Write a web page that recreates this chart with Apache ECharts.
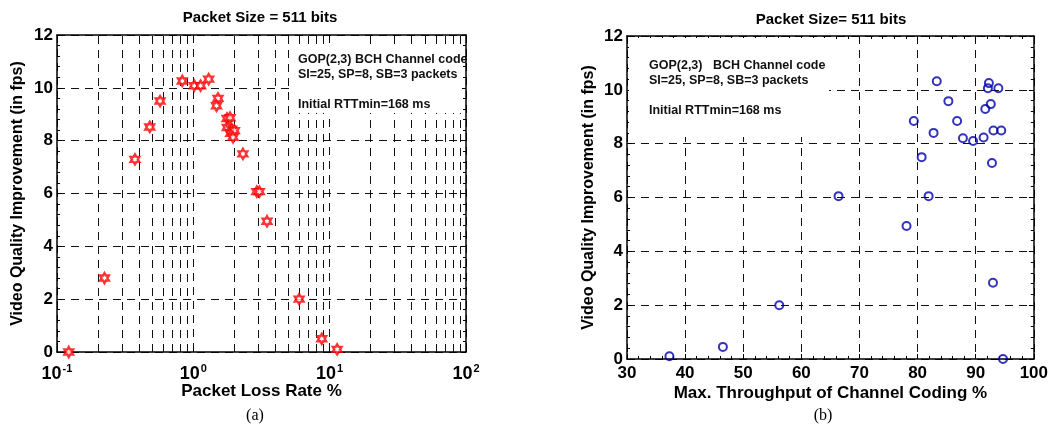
<!DOCTYPE html>
<html>
<head>
<meta charset="utf-8">
<script src="https://cdn.jsdelivr.net/npm/echarts@6/dist/echarts.min.js"></script>
<style>
  html, body { margin: 0; padding: 0; background: #fff; }
  #chart { width: 1051px; height: 430px; }
</style>
</head>
<body>
<div id="chart"></div>
<script>
// (a) packet loss rate vs improvement
const lossRate = [0.122, 0.223, 0.373, 0.479, 0.57, 0.83, 1.016, 1.13, 1.296, 1.517, 1.48,
  1.766, 1.858, 1.775, 1.91, 1.88, 2.0, 1.955, 2.31, 2.92, 3.05, 3.47, 5.97, 8.75, 11.35];
const lossImprovement = [0, 2.8, 7.29, 8.52, 9.5, 10.26, 10.08, 10.08, 10.33, 9.6, 9.32,
  8.84, 8.87, 8.5, 8.43, 8.28, 8.38, 8.13, 7.5, 6.07, 6.07, 4.95, 2.0, 0.5, 0.1];

// (b) max throughput of channel coding vs improvement
const throughput = [37.3, 46.5, 56.2, 66.4, 78.1, 81.9, 80.7, 79.35, 82.75, 83.3, 85.3, 86.8,
  87.8, 89.55, 91.36, 91.65, 92.6, 92.27, 92.1, 93.9, 93.05, 94.4, 92.8, 92.97, 94.7];
const throughputImprovement = [0.1, 0.45, 2.0, 6.05, 4.94, 6.05, 7.5, 8.84, 8.4, 10.32, 9.58, 8.84,
  8.2, 8.1, 8.23, 9.29, 9.47, 10.25, 10.06, 10.06, 8.49, 8.49, 7.28, 2.83, 0];

// log minor grid positions for the loss axis
const minorLogTicks = [0.2, 0.3, 0.4, 0.5, 0.6, 0.7, 0.8, 0.9, 2, 3, 4, 5, 6, 7, 8, 9,
  20, 30, 40, 50, 60, 70, 80, 90];

const FONT = 'Arial, "Liberation Sans", Helvetica, sans-serif';
const hexagram = 'path://M0,-100 L28.87,-50 L86.6,-50 L57.7,0 L86.6,50 L28.87,50 L0,100 ' +
  'L-28.87,50 L-86.6,50 L-57.7,0 L-86.6,-50 L-28.87,-50 Z';

const dash = { color: '#111', width: 1, type: [8, 6] };
const frameLine = { show: true, onZero: false, lineStyle: { color: '#000', width: 1.5 } };
const tick = { show: true, inside: true, length: 5, lineStyle: { color: '#000' } };
const minor = { show: true, splitNumber: 5, length: 3, lineStyle: { color: '#000' } };

function lossData() { return lossRate.map((x, i) => [x, lossImprovement[i]]); }
function tpData() { return throughput.map((x, i) => [x, throughputImprovement[i]]); }

const chart = echarts.init(document.getElementById('chart'));

const option = {
  animation: false,
  backgroundColor: '#fff',
  textStyle: { fontFamily: FONT },
  grid: [
    { left: 57, top: 35, width: 409, height: 317 },
    { left: 627, top: 36, width: 410, height: 323 }
  ],
  xAxis: [
    {
      type: 'log', gridIndex: 0, logBase: 10, min: 0.1, max: 100, position: 'bottom',
      axisLine: frameLine, axisTick: tick,
      splitLine: { show: true, lineStyle: dash },
      name: 'Packet Loss Rate %', nameLocation: 'middle', nameGap: 31, nameMoveOverlap: false,
      nameTextStyle: { fontSize: 17, fontWeight: 'bold', color: '#000' },
      axisLabel: {
        margin: 11,
        formatter: v => '{b|10}{s|' + Math.round(Math.log10(v)) + '}',
        rich: {
          b: { fontSize: 18, fontWeight: 'bold', color: '#000', fontFamily: FONT },
          s: { fontSize: 11, fontWeight: 'bold', color: '#000', fontFamily: FONT, verticalAlign: 'top', padding: [0, 0, 12, 1] }
        }
      }
    },
    {
      type: 'log', gridIndex: 0, logBase: 10, min: 0.1, max: 100, position: 'top',
      axisLine: frameLine, axisTick: tick, axisLabel: { show: false }, splitLine: { show: false }
    },
    {
      type: 'value', gridIndex: 1, min: 30, max: 100, interval: 10, position: 'bottom',
      axisLine: frameLine, axisTick: tick, minorTick: minor,
      splitLine: { show: true, lineStyle: dash },
      name: 'Max. Throughput of Channel Coding %', nameLocation: 'middle', nameGap: 26, nameMoveOverlap: false,
      nameTextStyle: { fontSize: 17, fontWeight: 'bold', color: '#000' },
      axisLabel: { margin: 6, fontSize: 17, fontWeight: 'bold', color: '#000' }
    },
    {
      type: 'value', gridIndex: 1, min: 30, max: 100, interval: 10, position: 'top',
      axisLine: frameLine, axisTick: tick, minorTick: minor,
      axisLabel: { show: false }, splitLine: { show: false }
    }
  ],
  yAxis: [
    {
      type: 'value', gridIndex: 0, min: 0, max: 12, interval: 2, position: 'left',
      axisLine: frameLine, axisTick: tick, minorTick: minor,
      splitLine: { show: true, lineStyle: dash },
      name: 'Video Quality Improvement (in fps)', nameLocation: 'middle', nameGap: 31,
      nameTextStyle: { fontSize: 16, fontWeight: 'bold', color: '#000' },
      axisLabel: { margin: 4, fontSize: 17, fontWeight: 'bold', color: '#000' }
    },
    {
      type: 'value', gridIndex: 0, min: 0, max: 12, interval: 2, position: 'right',
      axisLine: frameLine, axisTick: tick, minorTick: minor,
      axisLabel: { show: false }, splitLine: { show: false }
    },
    {
      type: 'value', gridIndex: 1, min: 0, max: 12, interval: 2, position: 'left',
      axisLine: frameLine, axisTick: tick, minorTick: minor,
      splitLine: { show: true, lineStyle: dash },
      name: 'Video Quality Improvement (in fps)', nameLocation: 'middle', nameGap: 30,
      nameTextStyle: { fontSize: 16, fontWeight: 'bold', color: '#000' },
      axisLabel: { margin: 4, fontSize: 17, fontWeight: 'bold', color: '#000' }
    },
    {
      type: 'value', gridIndex: 1, min: 0, max: 12, interval: 2, position: 'right',
      axisLine: frameLine, axisTick: tick, minorTick: minor,
      axisLabel: { show: false }, splitLine: { show: false }
    }
  ],
  series: [
    {
      type: 'scatter', xAxisIndex: 0, yAxisIndex: 0,
      data: lossData(),
      symbol: hexagram, symbolSize: 10, symbolKeepAspect: true,
      itemStyle: { color: '#fff', borderColor: '#ff0000', borderWidth: 2.4 },
      z: 5,
      markLine: {
        silent: true, symbol: ['none', 'none'], label: { show: false },
        lineStyle: dash, emphasis: { disabled: true },
        data: minorLogTicks.map(v => ({ xAxis: v }))
      }
    },
    {
      type: 'scatter', xAxisIndex: 2, yAxisIndex: 2,
      data: tpData(),
      symbol: 'circle', symbolSize: 8,
      itemStyle: { color: 'rgba(0,0,0,0)', borderColor: '#0000aa', borderWidth: 2 },
      z: 5
    }
  ],
  graphic: [
    // white text boxes hiding the grid behind the annotations
    { type: 'rect', z: 50, shape: { x: 290, y: 47, width: 172, height: 66 }, style: { fill: '#fff' } },
    { type: 'rect', z: 50, shape: { x: 629, y: 38, width: 200, height: 99 }, style: { fill: '#fff' } },
    { type: 'text', z: 60, style: { x: 298, y: 60, text: 'GOP(2,3) BCH Channel code', font: 'bold 12.5px ' + FONT, fill: '#111', textVerticalAlign: 'middle' } },
    { type: 'text', z: 60, style: { x: 298, y: 75, text: 'SI=25, SP=8, SB=3 packets', font: 'bold 12.5px ' + FONT, fill: '#111', textVerticalAlign: 'middle' } },
    { type: 'text', z: 60, style: { x: 298, y: 105, text: 'Initial RTTmin=168 ms', font: 'bold 12.5px ' + FONT, fill: '#111', textVerticalAlign: 'middle' } },
    { type: 'text', z: 60, style: { x: 649, y: 66, text: 'GOP(2,3)   BCH Channel code', font: 'bold 12.5px ' + FONT, fill: '#111', textVerticalAlign: 'middle' } },
    { type: 'text', z: 60, style: { x: 649, y: 81, text: 'SI=25, SP=8, SB=3 packets', font: 'bold 12.5px ' + FONT, fill: '#111', textVerticalAlign: 'middle' } },
    { type: 'text', z: 60, style: { x: 649, y: 111, text: 'Initial RTTmin=168 ms', font: 'bold 12.5px ' + FONT, fill: '#111', textVerticalAlign: 'middle' } },
    // titles
    { type: 'text', z: 60, style: { x: 260, y: 18, text: 'Packet Size = 511 bits', font: 'bold 15px ' + FONT, fill: '#000', textAlign: 'center', textVerticalAlign: 'middle' } },
    { type: 'text', z: 60, style: { x: 831, y: 20, text: 'Packet Size= 511 bits', font: 'bold 15px ' + FONT, fill: '#000', textAlign: 'center', textVerticalAlign: 'middle' } },
    // captions
    { type: 'text', z: 60, style: { x: 255, y: 416, text: '(a)', font: '16px "Liberation Serif", "Times New Roman", serif', fill: '#000', textAlign: 'center', textVerticalAlign: 'middle' } },
    { type: 'text', z: 60, style: { x: 823, y: 416, text: '(b)', font: '16px "Liberation Serif", "Times New Roman", serif', fill: '#000', textAlign: 'center', textVerticalAlign: 'middle' } }
  ]
};

chart.setOption(option);
</script>
</body>
</html>
